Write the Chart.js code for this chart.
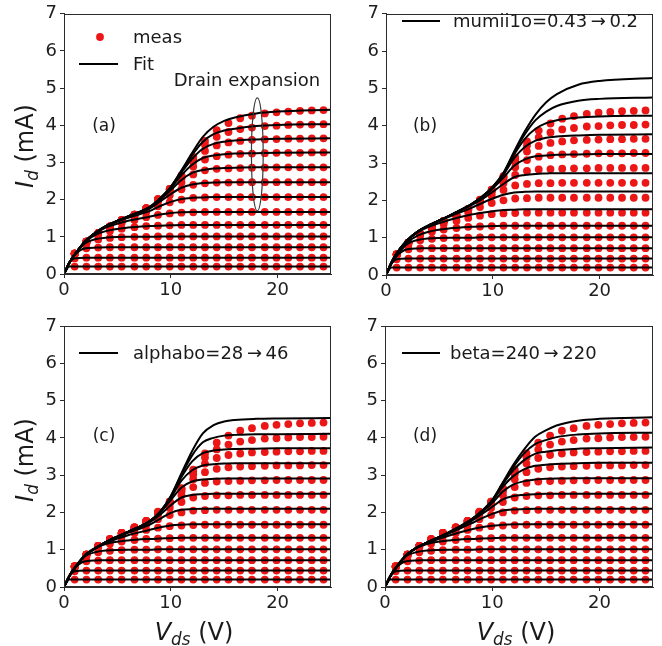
<!DOCTYPE html>
<html>
<head>
<meta charset="utf-8">
<title>Id-Vds fits</title>
<script src="https://cdn.jsdelivr.net/npm/chart.js@4.4.1/dist/chart.umd.min.js"></script>
<style>
  html, body { margin: 0; padding: 0; background: #fff; }
  #page { position: relative; width: 662px; height: 646px; overflow: hidden;
          font-family: "DejaVu Sans", sans-serif; color: #1a1a1a; }
  #page canvas { position: absolute; }
  .lbl { position: absolute; white-space: nowrap; line-height: 1; transform: translateY(-50%); }
  .leg { font-size: 18px; }
  .tag { font-size: 17px; transform: translate(-50%, -50%); }
  .note { font-size: 18px; transform: translate(-50%, -50%); }
  .ytitle { font-size: 24px; transform: translate(-50%, -50%) rotate(-90deg); }
  .xtitle { font-size: 24px; transform: translate(-50%, -50%); }
  .lbl sub { font-size: 70%; vertical-align: baseline; position: relative; top: 0.3em; }
</style>
</head>
<body>
<div id="page">
  <canvas id="cv-a" width="340" height="300" style="left:0;top:0"></canvas>
  <canvas id="cv-b" width="332" height="300" style="left:330px;top:0"></canvas>
  <canvas id="cv-c" width="340" height="346" style="left:0;top:300px"></canvas>
  <canvas id="cv-d" width="332" height="346" style="left:330px;top:300px"></canvas>

  <div class="lbl leg" style="left:133px;top:37px">meas</div>
  <div class="lbl leg" style="left:133px;top:64px">Fit</div>
  <div class="lbl leg" style="left:453px;top:21px">mumii1o=0.43&#8201;→&#8201;0.2</div>
  <div class="lbl leg" style="left:133px;top:353px">alphabo=28&#8201;→&#8201;46</div>
  <div class="lbl leg" style="left:450px;top:353px">beta=240&#8201;→&#8201;220</div>

  <div class="lbl tag" style="left:104px;top:125px">(a)</div>
  <div class="lbl tag" style="left:425px;top:125px">(b)</div>
  <div class="lbl tag" style="left:104px;top:435px">(c)</div>
  <div class="lbl tag" style="left:425px;top:435px">(d)</div>
  <div class="lbl note" style="left:247px;top:80px">Drain expansion</div>

  <div class="lbl ytitle" style="left:25px;top:146px"><i>I</i><sub><i>d</i></sub> (mA)</div>
  <div class="lbl ytitle" style="left:25px;top:460px"><i>I</i><sub><i>d</i></sub> (mA)</div>
  <div class="lbl xtitle" style="left:194px;top:632px"><i>V</i><sub><i>ds</i></sub> (V)</div>
  <div class="lbl xtitle" style="left:516px;top:632px"><i>V</i><sub><i>ds</i></sub> (V)</div>
</div>

<script>
// ── Measured points (same in every panel) ────────────────
const MEAS_V = [1.0, 2.1, 3.2, 4.3, 5.4, 6.6, 7.7, 8.8, 9.9, 11.0, 12.1, 13.2, 14.3, 15.4, 16.5, 17.6, 18.8, 19.9, 21.0, 22.1, 23.2, 24.3];

const meas0  = [0.20,0.20,0.20,0.20,0.20,0.20,0.20,0.20,0.20,0.20,0.20,0.20,0.20,0.20,0.20,0.20,0.20,0.20,0.20,0.20,0.20,0.20];
const meas1  = [0.42,0.44,0.44,0.44,0.44,0.44,0.44,0.44,0.44,0.44,0.44,0.44,0.44,0.44,0.44,0.44,0.44,0.44,0.44,0.44,0.44,0.44];
const meas2  = [0.53,0.69,0.71,0.72,0.72,0.72,0.72,0.72,0.72,0.72,0.72,0.72,0.72,0.72,0.72,0.72,0.72,0.72,0.72,0.72,0.72,0.72];
const meas3  = [0.55,0.82,0.93,0.97,0.99,1.00,1.00,1.01,1.01,1.01,1.01,1.01,1.01,1.01,1.01,1.01,1.01,1.01,1.01,1.01,1.01,1.01];
const meas4  = [0.55,0.86,1.05,1.16,1.22,1.26,1.29,1.30,1.31,1.32,1.32,1.32,1.32,1.32,1.32,1.32,1.32,1.32,1.32,1.32,1.32,1.32];
const meas5  = [0.55,0.87,1.09,1.24,1.37,1.45,1.53,1.59,1.63,1.65,1.66,1.67,1.67,1.67,1.67,1.67,1.67,1.67,1.67,1.67,1.67,1.67];
const meas6  = [0.55,0.87,1.10,1.27,1.42,1.55,1.67,1.82,1.93,2.00,2.05,2.06,2.07,2.07,2.07,2.07,2.07,2.07,2.07,2.07,2.07,2.07];
const meas7  = [0.55,0.87,1.10,1.27,1.44,1.58,1.73,1.94,2.12,2.28,2.40,2.44,2.46,2.46,2.47,2.47,2.47,2.47,2.47,2.47,2.47,2.47];
const meas8  = [0.55,0.87,1.10,1.28,1.45,1.59,1.75,1.98,2.21,2.46,2.68,2.79,2.83,2.84,2.85,2.86,2.86,2.87,2.87,2.87,2.87,2.87];
const meas9  = [0.55,0.87,1.10,1.28,1.45,1.60,1.76,2.00,2.26,2.56,2.89,3.08,3.17,3.21,3.23,3.24,3.25,3.26,3.26,3.26,3.27,3.27];
const meas10 = [0.55,0.87,1.10,1.28,1.45,1.60,1.77,2.01,2.28,2.61,3.02,3.31,3.46,3.54,3.58,3.61,3.62,3.63,3.64,3.64,3.65,3.65];
const meas11 = [0.55,0.87,1.10,1.28,1.45,1.60,1.77,2.01,2.29,2.64,3.10,3.47,3.69,3.82,3.90,3.94,3.98,3.99,4.01,4.02,4.02,4.03];
const meas12 = [0.55,0.87,1.10,1.28,1.45,1.60,1.77,2.02,2.29,2.65,3.15,3.58,3.87,4.06,4.19,4.26,4.32,4.35,4.37,4.39,4.40,4.41];
const MEAS = [meas0, meas1, meas2, meas3, meas4, meas5, meas6, meas7, meas8, meas9, meas10, meas11, meas12];

// ── Fit curves ────────────────────────────────────────────
const FIT_V = [0, 0.5, 1, 2, 3, 4, 6, 8, 9, 10, 11, 12, 13, 14, 15, 16, 18, 20, 25];

// lowest five gate steps look the same in all panels
const fitLow0 = [0,0.20,0.20,0.20,0.20,0.20,0.20,0.20,0.20,0.20,0.20,0.20,0.20,0.20,0.20,0.20,0.20,0.20,0.20];
const fitLow1 = [0,0.30,0.42,0.44,0.44,0.44,0.44,0.44,0.44,0.44,0.44,0.44,0.44,0.44,0.44,0.44,0.44,0.44,0.44];
const fitLow2 = [0,0.30,0.51,0.69,0.71,0.72,0.72,0.72,0.72,0.72,0.72,0.72,0.72,0.72,0.72,0.72,0.72,0.72,0.72];
const fitLow3 = [0,0.30,0.52,0.83,0.94,0.98,1.00,1.00,1.01,1.01,1.01,1.01,1.01,1.01,1.01,1.01,1.01,1.01,1.01];
const fitLow4 = [0,0.30,0.52,0.87,1.06,1.16,1.25,1.29,1.30,1.31,1.32,1.32,1.32,1.32,1.32,1.32,1.32,1.32,1.32];

// (a) fitted
const fitA5  = [0,0.30,0.52,0.88,1.10,1.26,1.43,1.54,1.60,1.64,1.66,1.67,1.67,1.67,1.67,1.67,1.67,1.67,1.67];
const fitA6  = [0,0.30,0.52,0.88,1.11,1.29,1.51,1.69,1.83,1.94,2.02,2.05,2.06,2.07,2.07,2.07,2.07,2.07,2.07];
const fitA7  = [0,0.30,0.52,0.88,1.12,1.29,1.53,1.76,1.95,2.15,2.32,2.41,2.45,2.46,2.47,2.47,2.47,2.47,2.47];
const fitA8  = [0,0.30,0.52,0.88,1.12,1.30,1.54,1.78,2.00,2.26,2.53,2.72,2.80,2.84,2.85,2.86,2.87,2.87,2.87];
const fitA9  = [0,0.30,0.52,0.88,1.12,1.30,1.55,1.79,2.02,2.31,2.66,2.94,3.12,3.19,3.22,3.24,3.25,3.26,3.27];
const fitA10 = [0,0.30,0.52,0.88,1.12,1.30,1.55,1.80,2.03,2.33,2.73,3.10,3.37,3.50,3.56,3.59,3.62,3.64,3.65];
const fitA11 = [0,0.30,0.52,0.88,1.12,1.30,1.55,1.80,2.03,2.34,2.77,3.20,3.56,3.76,3.86,3.91,3.98,4.01,4.03];
const fitA12 = [0,0.30,0.52,0.88,1.12,1.30,1.55,1.80,2.04,2.35,2.79,3.26,3.69,3.96,4.12,4.21,4.32,4.37,4.42];

// (b) mumii1o changed
const fitB5  = [0,0.33,0.58,0.93,1.15,1.29,1.48,1.62,1.67,1.71,1.74,1.75,1.76,1.76,1.76,1.76,1.76,1.76,1.76];
const fitB6  = [0,0.33,0.58,0.93,1.17,1.32,1.57,1.80,1.93,2.05,2.15,2.21,2.23,2.24,2.24,2.24,2.24,2.24,2.24];
const fitB7  = [0,0.33,0.58,0.93,1.17,1.33,1.59,1.87,2.03,2.23,2.44,2.62,2.68,2.71,2.72,2.73,2.73,2.73,2.73];
const fitB8  = [0,0.33,0.58,0.93,1.17,1.33,1.60,1.89,2.07,2.32,2.61,2.93,3.10,3.18,3.20,3.22,3.23,3.24,3.24];
const fitB9  = [0,0.33,0.58,0.93,1.17,1.33,1.60,1.89,2.09,2.35,2.69,3.13,3.43,3.60,3.68,3.71,3.74,3.76,3.77];
const fitB10 = [0,0.33,0.58,0.93,1.17,1.33,1.60,1.90,2.10,2.36,2.72,3.23,3.65,3.92,4.07,4.15,4.22,4.25,4.27];
const fitB11 = [0,0.33,0.58,0.93,1.17,1.33,1.60,1.90,2.10,2.36,2.73,3.28,3.77,4.15,4.38,4.53,4.67,4.72,4.76];
const fitB12 = [0,0.33,0.58,0.93,1.17,1.33,1.60,1.90,2.10,2.37,2.74,3.31,3.85,4.30,4.63,4.85,5.10,5.20,5.28];

// (c) alphabo changed
const fitC5  = [0,0.29,0.50,0.85,1.04,1.19,1.39,1.53,1.60,1.65,1.67,1.68,1.68,1.68,1.68,1.68,1.68,1.68,1.68];
const fitC6  = [0,0.29,0.50,0.85,1.05,1.21,1.45,1.67,1.83,1.99,2.07,2.09,2.10,2.10,2.10,2.10,2.10,2.10,2.10];
const fitC7  = [0,0.29,0.50,0.85,1.05,1.22,1.47,1.73,1.94,2.19,2.40,2.47,2.49,2.50,2.50,2.50,2.50,2.50,2.50];
const fitC8  = [0,0.29,0.50,0.85,1.05,1.22,1.48,1.75,1.99,2.33,2.67,2.83,2.88,2.90,2.91,2.91,2.91,2.91,2.91];
const fitC9  = [0,0.29,0.50,0.85,1.05,1.22,1.48,1.76,2.00,2.39,2.85,3.13,3.26,3.29,3.31,3.32,3.32,3.32,3.32];
const fitC10 = [0,0.29,0.50,0.85,1.05,1.22,1.48,1.76,2.01,2.42,2.95,3.37,3.59,3.66,3.69,3.70,3.71,3.72,3.72];
const fitC11 = [0,0.29,0.50,0.85,1.05,1.22,1.48,1.76,2.02,2.43,3.01,3.53,3.88,4.00,4.06,4.08,4.10,4.10,4.11];
const fitC12 = [0,0.29,0.50,0.85,1.05,1.22,1.48,1.76,2.02,2.44,3.05,3.65,4.12,4.34,4.44,4.48,4.51,4.52,4.53];

// (d) beta changed
const fitD5  = [0,0.29,0.50,0.85,1.05,1.18,1.38,1.54,1.60,1.64,1.67,1.68,1.68,1.68,1.68,1.68,1.68,1.68,1.68];
const fitD6  = [0,0.29,0.50,0.85,1.06,1.19,1.44,1.70,1.84,1.96,2.05,2.08,2.09,2.10,2.10,2.10,2.10,2.10,2.10];
const fitD7  = [0,0.29,0.50,0.85,1.06,1.20,1.46,1.76,1.95,2.15,2.35,2.44,2.47,2.49,2.50,2.50,2.50,2.50,2.50];
const fitD8  = [0,0.29,0.50,0.85,1.06,1.20,1.47,1.78,2.00,2.25,2.56,2.75,2.84,2.88,2.90,2.91,2.92,2.92,2.92];
const fitD9  = [0,0.29,0.50,0.85,1.06,1.20,1.47,1.79,2.01,2.30,2.69,2.98,3.16,3.25,3.28,3.30,3.32,3.33,3.33];
const fitD10 = [0,0.29,0.50,0.85,1.06,1.20,1.47,1.80,2.02,2.32,2.76,3.14,3.41,3.57,3.63,3.67,3.71,3.72,3.74];
const fitD11 = [0,0.29,0.50,0.85,1.06,1.20,1.47,1.80,2.03,2.33,2.79,3.23,3.59,3.83,3.94,4.02,4.09,4.12,4.14];
const fitD12 = [0,0.29,0.50,0.85,1.06,1.20,1.47,1.80,2.03,2.33,2.81,3.29,3.70,4.03,4.20,4.33,4.46,4.51,4.55];

const FIT_LOW = [fitLow0, fitLow1, fitLow2, fitLow3, fitLow4];
const FIT_A = [...FIT_LOW, fitA5, fitA6, fitA7, fitA8, fitA9, fitA10, fitA11, fitA12];
const FIT_B = [...FIT_LOW, fitB5, fitB6, fitB7, fitB8, fitB9, fitB10, fitB11, fitB12];
const FIT_C = [...FIT_LOW, fitC5, fitC6, fitC7, fitC8, fitC9, fitC10, fitC11, fitC12];
const FIT_D = [...FIT_LOW, fitD5, fitD6, fitD7, fitD8, fitD9, fitD10, fitD11, fitD12];

// axis ranges / ticks
const X_MIN = 0, X_MAX = 25, X_STEP = 10;
const Y_MIN = 0, Y_MAX = 7,  Y_STEP = 1;

// "Drain expansion" ellipse in data units: centre, half-width, half-height
const DRAIN_ELLIPSE = { cx: 18.1, cy: 3.22, rx: 0.55, ry: 1.52 };

// ── Style ────────────────────────────────────────────────
const LINE_CLR = "#000000";
const DOT_CLR  = "rgb(236,22,22)";
const AXIS_CLR = "#2b2b2b";
const TICK_CLR = "#1e1e1e";

Chart.defaults.font.family = "'DejaVu Sans', sans-serif";
Chart.defaults.font.size   = 18;
Chart.defaults.color       = TICK_CLR;

// box around the plot area (matplotlib spines)
const framePlugin = {
  id: "frame",
  afterDraw(chart) {
    const { ctx, chartArea: a } = chart;
    ctx.save();
    ctx.strokeStyle = AXIS_CLR;
    ctx.lineWidth = 1;
    ctx.strokeRect(Math.round(a.left) + 0.5, Math.round(a.top) + 0.5,
                   Math.round(a.right - a.left) - 1, Math.round(a.bottom - a.top) - 1);
    ctx.restore();
  },
};

// legend swatches + annotation ellipse
const overlayPlugin = {
  id: "overlay",
  afterDraw(chart, args, opts) {
    const { ctx } = chart;
    ctx.save();
    (opts.marks || []).forEach(m => {
      if (m.kind === "dot") {
        ctx.fillStyle = DOT_CLR;
        ctx.beginPath();
        ctx.arc(m.x, m.y, 3.9, 0, Math.PI * 2);
        ctx.fill();
      } else {
        ctx.strokeStyle = LINE_CLR;
        ctx.lineWidth = 2.2;
        ctx.beginPath();
        ctx.moveTo(m.x0, m.y);
        ctx.lineTo(m.x1, m.y);
        ctx.stroke();
      }
    });
    if (opts.ellipse) {
      const e = opts.ellipse;
      const xs = chart.scales.x, ys = chart.scales.y;
      const cx = xs.getPixelForValue(e.cx), cy = ys.getPixelForValue(e.cy);
      const rx = Math.abs(xs.getPixelForValue(e.cx + e.rx) - cx);
      const ry = Math.abs(ys.getPixelForValue(e.cy + e.ry) - cy);
      ctx.strokeStyle = "#3a3a3a";
      ctx.lineWidth = 1.2;
      ctx.beginPath();
      ctx.ellipse(cx, cy, rx, ry, 0, 0, Math.PI * 2);
      ctx.stroke();
    }
    ctx.restore();
  },
};

function buildPanel(id, fits, box, overlay) {
  const datasets = fits.map(curve => ({
    data: FIT_V.map((v, i) => ({ x: v, y: curve[i] })),
    borderColor: LINE_CLR,
    borderWidth: 2,
    pointRadius: 0,
    cubicInterpolationMode: "monotone",
    fill: false,
    order: 0,
  }));
  MEAS.forEach(curve => datasets.push({
    data: MEAS_V.map((v, i) => ({ x: v, y: curve[i] })),
    showLine: false,
    backgroundColor: DOT_CLR,
    borderWidth: 0,
    pointRadius: 3.9,
    order: 1,
  }));

  const axisGrid = { drawOnChartArea: false, drawTicks: true, tickLength: 4, color: AXIS_CLR };

  return new Chart(document.getElementById(id), {
    type: "line",
    data: { datasets },
    options: {
      responsive: false,
      animation: false,
      events: [],
      layout: { padding: { left: 0, right: box.pr, top: box.pt, bottom: 0 } },
      scales: {
        x: {
          type: "linear",
          min: X_MIN, max: X_MAX,
          ticks: { stepSize: X_STEP, padding: 2, maxRotation: 0, color: TICK_CLR },
          afterBuildTicks: ax => { ax.ticks = ax.ticks.filter(t => t.value % X_STEP === 0); },
          afterFit: s => { s.height = box.xh; },
          grid: axisGrid,
          border: { color: AXIS_CLR, width: 1 },
        },
        y: {
          type: "linear",
          min: Y_MIN, max: Y_MAX,
          ticks: { stepSize: Y_STEP, padding: 3, color: TICK_CLR },
          afterFit: s => { s.width = box.yw; },
          grid: axisGrid,
          border: { color: AXIS_CLR, width: 1 },
        },
      },
      plugins: {
        legend: { display: false },
        tooltip: { enabled: false },
        overlay,
      },
    },
    plugins: [framePlugin, overlayPlugin],
  });
}

buildPanel("cv-a", FIT_A, { yw: 64, pr: 9, pt: 12, xh: 26 }, {
  marks: [{ kind: "dot", x: 100, y: 37 }, { kind: "line", x0: 79, x1: 118, y: 64 }],
  ellipse: DRAIN_ELLIPSE,
});
buildPanel("cv-b", FIT_B, { yw: 56, pr: 9, pt: 12, xh: 25 }, {
  marks: [{ kind: "line", x0: 72, x1: 110, y: 21 }],
});
buildPanel("cv-c", FIT_C, { yw: 64, pr: 9, pt: 26, xh: 59 }, {
  marks: [{ kind: "line", x0: 79, x1: 118, y: 53 }],
});
buildPanel("cv-d", FIT_D, { yw: 55, pr: 9, pt: 26, xh: 59 }, {
  marks: [{ kind: "line", x0: 72, x1: 110, y: 53 }],
});
</script>
</body>
</html>
